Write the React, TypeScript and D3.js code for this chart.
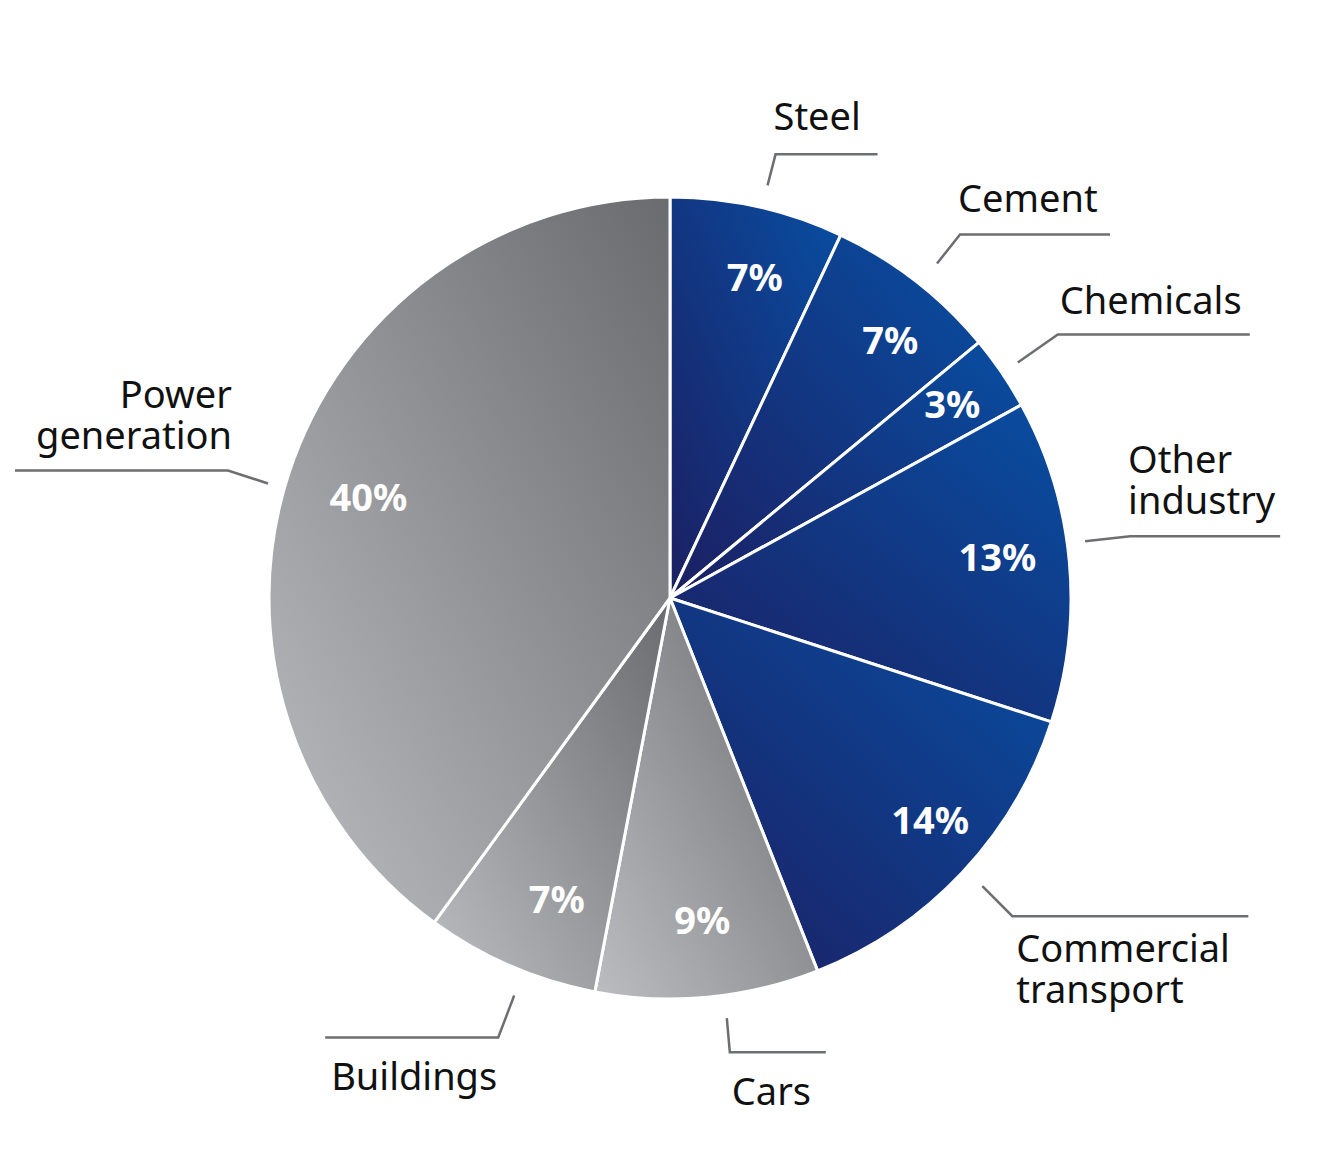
import React from 'react';
import * as d3 from 'd3';

// Slice data, clockwise from 12 o'clock
const sectors = ['Steel', 'Cement', 'Chemicals', 'Other industry', 'Commercial transport', 'Cars', 'Buildings', 'Power generation'];
const shares = [7, 7, 3, 13, 14, 9, 7, 40];
const groups = ['blue', 'blue', 'blue', 'blue', 'blue', 'grey', 'grey', 'grey'];
const labelLines = [['Steel'], ['Cement'], ['Chemicals'], ['Other', 'industry'], ['Commercial', 'transport'], ['Cars'], ['Buildings'], ['Power', 'generation']];

// Label layout: angle nudge (deg) + radius for leader start and % label,
// elbow offset from start, horizontal run, text offset from elbow
const leaders = [
  { da: 0.7, r: 424, pa: 2.2, pr: 332, ex: 8, ey: -31, run: 102, tx: -2, ty: -24, anchor: 'start' },
  { da: 0.8, r: 428, pa: 2.7, pr: 339, ex: 23, ey: -29, run: 150, tx: -2, ty: -23, anchor: 'start' },
  { da: 0.1, r: 420, pa: -0.2, pr: 342, ex: 40, ey: -28, run: 192, tx: 2, ty: -21, anchor: 'start' },
  { da: -2.4, r: 419, pa: -1.7, pr: 330, ex: 45, ey: -5, run: 150, tx: -2, ty: -63, anchor: 'start' },
  { da: -0.5, r: 425, pa: -2.7, pr: 342, ex: 30, ey: 30, run: 236, tx: 4, ty: 46, anchor: 'start' },
  { da: -2.3, r: 424, pa: -0.3, pr: 324, ex: 3, ey: 34, run: 96, tx: 2, ty: 53, anchor: 'start' },
  { da: -2.0, r: 427, pa: -2.8, pr: 322, ex: -16, ey: 42, run: -173, tx: -1, ty: 52, anchor: 'end' },
  { da: -2.1, r: 418, pa: 0.5, pr: 318, ex: -40, ey: -13, run: -213, tx: 4, ty: -63, anchor: 'end' },
];

const W = 1332;
const H = 1151;
const cx = 670;
const cy = 598;
const R = 401;

const App: React.FC = () => {
  const data = sectors.map((name, i) => ({ name, value: shares[i], group: groups[i], lines: labelLines[i], leader: leaders[i] }));
  const pie = d3.pie<typeof data[number]>().value(d => d.value).sort(null);
  const arcs = pie(data);
  const arc = d3.arc<d3.PieArcDatum<typeof data[number]>>().innerRadius(0).outerRadius(R);
  const font = '"Noto Sans", "Open Sans", sans-serif';
  const rad = (deg: number) => (deg * Math.PI) / 180;

  return (
    <svg width={W} height={H} style={{ position: 'absolute', left: 0, top: 0 }}>
      <defs>
        <linearGradient id="g-blue" x1="0" y1="1" x2="1" y2="0">
          <stop offset="0%" stopColor="#1c1f62" />
          <stop offset="100%" stopColor="#084ea2" />
        </linearGradient>
        <linearGradient id="g-grey" x1="0" y1="1" x2="1" y2="0">
          <stop offset="0%" stopColor="#bcbdc0" />
          <stop offset="100%" stopColor="#6a6b6e" />
        </linearGradient>
      </defs>
      <rect width={W} height={H} fill="#ffffff" />
      <g transform={`translate(${cx},${cy})`}>
        {arcs.map((a, i) => (
          <path key={i} d={arc(a) || ''} fill={`url(#g-${a.data.group})`} stroke="#ffffff" strokeWidth={3} strokeLinejoin="round" />
        ))}
        {arcs.map((a, i) => {
          const mid = (a.startAngle + a.endAngle) / 2;
          const l = a.data.leader;
          const [x, y] = d3.pointRadial(mid + rad(l.pa), l.pr);
          return (
            <text key={`p${i}`} x={x} y={y} dy="0.36em" textAnchor="middle" fill="#ffffff"
              fontFamily={font} fontWeight={700} fontSize={38}>{a.data.value}%</text>
          );
        })}
        {arcs.map((a, i) => {
          const mid = (a.startAngle + a.endAngle) / 2;
          const l = a.data.leader;
          const [sx, sy] = d3.pointRadial(mid + rad(l.da), l.r);
          const ex = sx + l.ex;
          const ey = sy + l.ey;
          return (
            <g key={`l${i}`}>
              <polyline points={`${sx},${sy} ${ex},${ey} ${ex + l.run},${ey}`} fill="none" stroke="#6d6e71" strokeWidth={2.5} />
              <text x={ex + l.tx} y={ey + l.ty} textAnchor={l.anchor} fill="#111111" fontFamily={font} fontSize={38}>
                {a.data.lines.map((t, j) => (
                  <tspan key={j} x={ex + l.tx} dy={j === 0 ? 0 : 41}>{t}</tspan>
                ))}
              </text>
            </g>
          );
        })}
      </g>
    </svg>
  );
};

export default App;
